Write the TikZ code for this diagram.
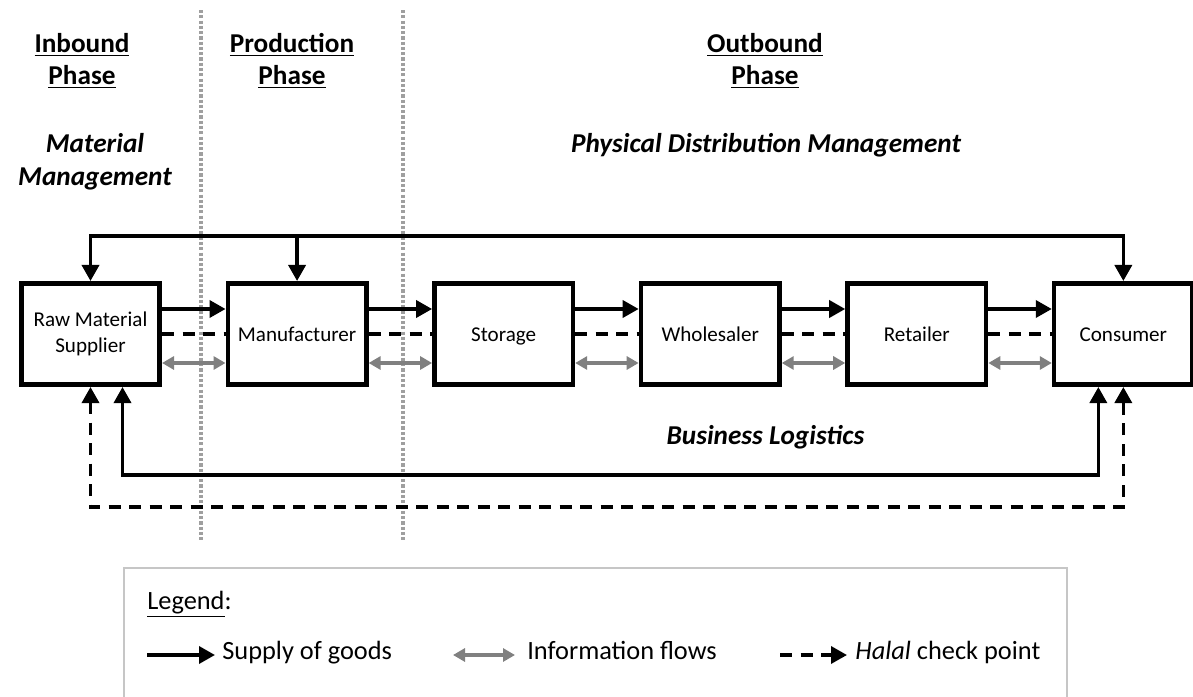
\documentclass[tikz,border=0pt]{standalone}
\usepackage{fontspec}
\setmainfont{Carlito}
\usetikzlibrary{positioning,arrows.meta}

\tikzset{
  >={Triangle[width=0.34cm,length=0.32cm]},
  stage/.style={draw, line width=2.6pt, minimum width=2.77cm, minimum height=2.03cm,
    inner sep=2pt, align=center, text height=1.9ex, text depth=0.1ex,
    font=\fontsize{12}{14.7}\selectfont},
  supply/.style={line width=2pt, ->},
  info/.style={line width=2pt, gray,
    {Triangle[width=0.26cm,length=0.24cm]}-{Triangle[width=0.26cm,length=0.24cm]}},
  check/.style={line width=2pt, dash pattern=on 0.24cm off 0.17cm},
  divider/.style={gray!75, line width=2pt, dash pattern=on 1.8pt off 1.2pt},
  phase/.style={font=\fontsize{15.5}{18}\selectfont\bfseries, align=center},
  area/.style={font=\fontsize{15.5}{19}\selectfont\bfseries\itshape, align=center},
  legtext/.style={font=\fontsize{15}{18}\selectfont, anchor=west, inner sep=0pt,
    text height=1.6ex, text depth=0.45ex},
}

\begin{document}
\begin{tikzpicture}[node distance=1.27cm]
    \useasboundingbox (0,0) rectangle (23.86,-13.94);

    % phase dividers
    \draw[divider] (4.02,-0.2) -- (4.02,-10.8);
    \draw[divider] (8.06,-0.2) -- (8.06,-10.8);

    % phase headings
    \node[phase] (inb) at (1.64,-1.22) {\underline{Inbound}\\\underline{Phase}};
    \node[phase] (prod) at (5.84,-1.22) {\underline{Production}\\\underline{Phase}};
    \node[phase] (outb) at (15.3,-1.22) {\underline{Outbound}\\\underline{Phase}};
    \node[area] (matman) at (1.9,-3.24) {Material\\Management};
    \node[area] (physdist) at (15.32,-2.9) {Physical Distribution Management};
    \node[area] (buslog) at (15.31,-8.74) {Business Logistics};

    % chain of stages
    \node[stage, text height={}, text depth={}] (raw) at (1.81,-6.68) {Raw Material\\Supplier};
    \node[stage, right=of raw] (manu) {Manufacturer};
    \node[stage, right=of manu] (stor) {Storage};
    \node[stage, right=of stor] (whole) {Wholesaler};
    \node[stage, right=of whole] (retail) {Retailer};
    \node[stage, right=of retail] (cons) {Consumer};

    % flows between neighbours
    \foreach \a/\b in {raw/manu, manu/stor, stor/whole, whole/retail, retail/cons} {
        \draw[supply] ([yshift=0.5cm]\a.east) -- ([yshift=0.5cm]\b.west);
        \draw[check] (\a.east) -- (\b.west);
        \draw[info] ([yshift=-0.58cm]\a.east) -- ([yshift=-0.58cm]\b.west);
    }

    % feedback loops
    \coordinate (top) at (0,-4.72);
    \coordinate (low) at (0,-9.5);
    \coordinate (lower) at (0,-10.14);
    \draw[supply] (manu.north |- top) -| (raw.north);
    \draw[supply] (manu.north |- top) -- (manu.north);
    \draw[supply] (manu.north |- top) -| (cons.north);

    \coordinate (rs) at ([xshift=0.64cm]raw.south);
    \coordinate (cs) at ([xshift=-0.5cm]cons.south);
    \draw[supply, <->] (rs) |- (cs |- low) -- (cs);
    \draw[check, <->] (raw.south) |- (cons.south |- lower) -- (cons.south);

    % legend
    \draw[gray!45, line width=0.6pt] (2.48,-11.36) rectangle (21.34,-14.3);
    \node[legtext] (leg) at (2.94,-12.1) {\underline{Legend}:};
    \node[legtext] (lsup) at (4.44,-13.1) {Supply of goods};
    \node[legtext] (linfo) at (10.54,-13.1) {Information flows};
    \node[legtext] (lcheck) at (17.1,-13.1) {\textit{Halal} check point};
    \draw[supply] ([xshift=-1.5cm]lsup.west) -- ([xshift=-0.14cm]lsup.west);
    \draw[info] ([xshift=-1.48cm]linfo.west) -- ([xshift=-0.24cm]linfo.west);
    \draw[check, ->] ([xshift=-1.5cm]lcheck.west) -- ([xshift=-0.16cm]lcheck.west);
\end{tikzpicture}
\end{document}
